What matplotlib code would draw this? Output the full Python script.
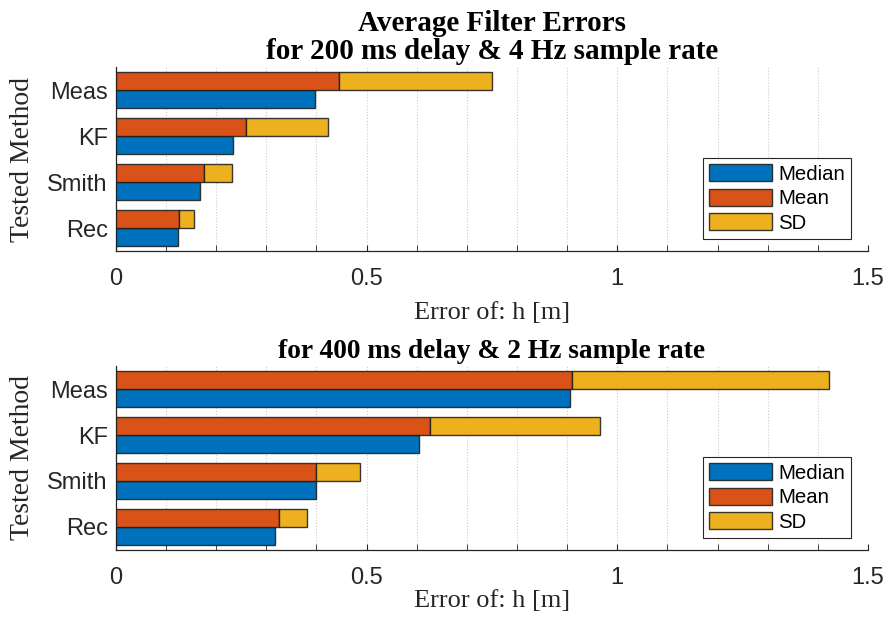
import numpy as np
import matplotlib
matplotlib.use("Agg")
import matplotlib.pyplot as plt
from matplotlib.ticker import MultipleLocator

# Data (order bottom -> top)
methods = ["Rec", "Smith", "KF", "Meas"]

median_200 = [0.123, 0.168, 0.233, 0.397]
mean_200 = [0.125, 0.175, 0.259, 0.445]
sd_200 = [0.030, 0.056, 0.163, 0.306]

median_400 = [0.317, 0.399, 0.604, 0.906]
mean_400 = [0.325, 0.399, 0.627, 0.909]
sd_400 = [0.056, 0.088, 0.338, 0.514]

titles = ["Average Filter Errors\nfor 200 ms delay & 4 Hz sample rate",
          "for 400 ms delay & 2 Hz sample rate"]

c_median = "#0072BD"
c_mean = "#D95319"
c_sd = "#EDB120"
edge = (0.1, 0.1, 0.1, 0.85)

serif = ["Liberation Serif", "DejaVu Serif"]
sans = ["Liberation Sans", "DejaVu Sans"]

fig = plt.figure(figsize=(8.88, 6.23), dpi=100)
ax_top = fig.add_axes([0.1306, 0.5971, 0.8468, 0.2953])
ax_bot = fig.add_axes([0.1306, 0.1172, 0.8468, 0.2953])


def draw(ax, median, mean, sd, title, title_size, xpad):
    y = np.arange(1, len(methods) + 1)
    h = 0.4
    ax.barh(y - h / 2, median, height=h, color=c_median, edgecolor=edge,
            linewidth=1.0, label="Median", zorder=3)
    ax.barh(y + h / 2, mean, height=h, color=c_mean, edgecolor=edge,
            linewidth=1.0, label="Mean", zorder=3)
    ax.barh(y + h / 2, sd, left=mean, height=h, color=c_sd, edgecolor=edge,
            linewidth=1.0, label="SD", zorder=3)

    ax.set_xlim(0, 1.5)
    ax.set_ylim(0.5, 4.5)
    ax.set_yticks(y)
    ax.set_yticklabels(methods, family=sans, fontsize=17, color="#262626")
    ax.xaxis.set_minor_locator(MultipleLocator(0.1))
    ax.set_xticks([0, 0.5, 1, 1.5])
    ax.set_xticklabels(["0", "0.5", "1", "1.5"], family=sans, fontsize=17,
                       color="#262626")
    ax.tick_params(axis="x", which="both", direction="in", length=4,
                   color="#262626", pad=12)
    ax.tick_params(axis="y", direction="in", length=0, pad=6)
    ax.grid(True, axis="x", which="both", linestyle=":", color="#cccccc",
            linewidth=0.8, zorder=0)
    for s in ["top", "right"]:
        ax.spines[s].set_visible(False)
    for s in ["left", "bottom"]:
        ax.spines[s].set_color("#262626")
        ax.spines[s].set_linewidth(0.9)

    ax.set_xlabel("Error of: h [m]", family=serif, fontsize=19,
                  color="#262626", labelpad=xpad)
    ax.set_ylabel("Tested Method", family=serif, fontsize=20,
                  color="#262626", labelpad=9)
    ax.set_title(title, family=serif, fontsize=title_size, fontweight="bold",
                 linespacing=1.05, pad=6)

    leg = ax.legend(loc="lower right", bbox_to_anchor=(0.978, 0.065),
                    prop={"family": sans, "size": 14.7}, frameon=True,
                    fancybox=False, edgecolor="#262626", framealpha=1,
                    handlelength=3.1, handleheight=0.9, handletextpad=0.3,
                    labelspacing=0.25, borderpad=0.3, borderaxespad=0)
    leg.get_frame().set_linewidth(0.8)


draw(ax_top, median_200, mean_200, sd_200, titles[0], 21, 9)
draw(ax_bot, median_400, mean_400, sd_400, titles[1], 19.8, 1)

fig.savefig("out.png", dpi=100)
